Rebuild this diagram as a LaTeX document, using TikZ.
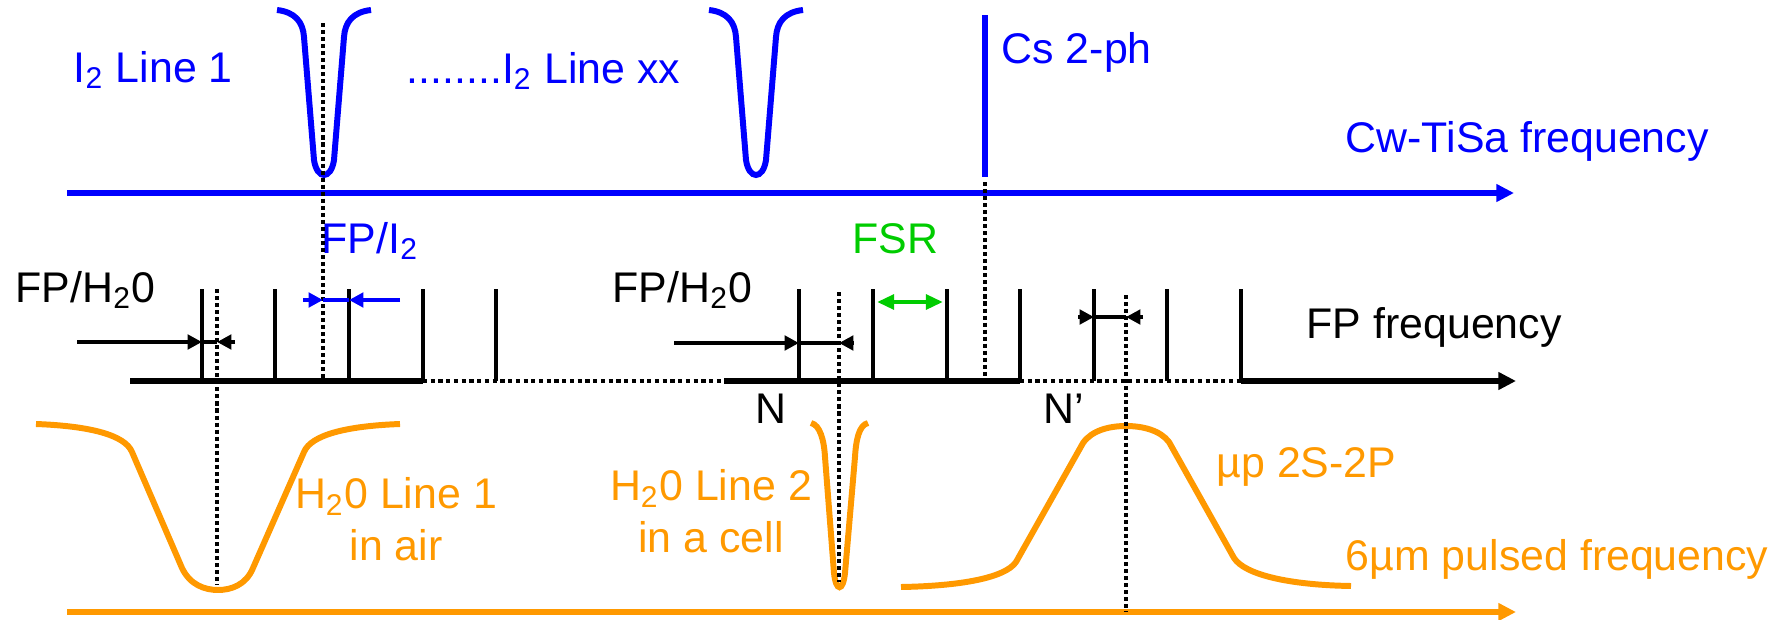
\documentclass[tikz,border=0pt]{standalone}
\usepackage{fontspec}
\setmainfont{Liberation Sans}
\usetikzlibrary{arrows.meta}
\definecolor{tisablue}{RGB}{0,0,255}
\definecolor{pulseorange}{RGB}{255,153,0}
\definecolor{fsrgreen}{RGB}{0,204,0}

\begin{document}
\begin{tikzpicture}[x=0.1mm, y=-0.1mm,
    every node/.style={inner sep=0pt, font=\fontsize{12.2}{14.6}\selectfont},
    axis/.style={line width=1.6pt, -{Triangle[length=5pt, width=4.8pt]}},
    curve/.style={line width=1.7pt},
    tooth/.style={line width=1.4pt},
    guide/.style={line width=1.15pt, dash pattern=on 1.15pt off 0.85pt},
    gapaxis/.style={line width=1.4pt, dash pattern=on 1.2pt off 1pt},
    gap/.style={line width=1.05pt},
    tip/.style={line width=1.05pt, -{Triangle[length=4.1pt, width=4.1pt]}}]

        \useasboundingbox (0,0) rectangle (1779,620);

        % Cw-TiSa row
        \coordinate (cw0) at (67,193);
        \coordinate (cw1) at (1514,193);
        \draw[axis, tisablue] (cw0) -- (cw1);

        \foreach \c in {324,756} {
          \draw[curve, tisablue] ({\c-47},10) .. controls ({\c-29},12) and ({\c-21},22) .. ({\c-20},37)
            -- ({\c-10},160) .. controls ({\c-7},180) and ({\c+7},180) .. ({\c+10},160)
            -- ({\c+20},37) .. controls ({\c+21},22) and ({\c+29},12) .. ({\c+47},10);
        }

        \coordinate (cs0) at (985,15);
        \coordinate (cs1) at (985,177);
        \draw[curve, tisablue] (cs0) -- (cs1);

        \node[anchor=base west, text=tisablue] (i2one) at (73,82) {I\textsubscript{2} Line 1};
        \node[anchor=base west, text=tisablue] (i2xx) at (406,83) {........I\textsubscript{2} Line xx};
        \node[anchor=base west, text=tisablue] (cs) at (1001,63) {Cs 2-ph};
        \node[anchor=base west, text=tisablue] (cwlabel) at (1345,152) {Cw-TiSa frequency};

        % FP row
        \foreach \i/\x in {1/202,2/275,3/349,4/423,5/496,6/799,7/873,8/947,9/1020,10/1094,11/1167,12/1241} {
          \coordinate (t\i) at (\x,289);
          \coordinate (b\i) at (\x,381);
          \draw[tooth] (b\i) -- (t\i);
        }

        \coordinate (fp0) at (130,381);
        \coordinate (fpa) at (724,381);
        \coordinate (fp1) at (1516,381);
        \draw[line width=1.6pt] (fp0) -- (b4);
        \draw[gapaxis] (b4) -- (fpa);
        \draw[line width=1.6pt] (fpa) -- (b9);
        \draw[gapaxis] (b9) -- (b12);
        \draw[axis] (b12) -- (fp1);

        \node[anchor=base west] (fph1) at (15,302) {FP/H\textsubscript{2}0};
        \node[anchor=base west] (fph2) at (612,302) {FP/H\textsubscript{2}0};
        \node[anchor=base west, text=tisablue] (fpi) at (321,253) {FP/I\textsubscript{2}};
        \node[anchor=base west, text=fsrgreen] (fsr) at (852,253) {FSR};
        \node[anchor=base west] (fpfreq) at (1306,338) {FP frequency};
        \node[anchor=base west] (n) at (755,423) {N};
        \node[anchor=base west] (nprime) at (1043,423) {N’};

        % 6 um row
        \coordinate (p0) at (67,612);
        \coordinate (p1) at (1516,612);
        \draw[axis, pulseorange] (p0) -- (p1);

        \draw[curve, pulseorange] (36,424) .. controls (90,426) and (125,435) .. (132,452)
          -- (182,568) .. controls (190,585) and (205,590) .. (218,590)
          .. controls (231,590) and (246,585) .. (253,568)
          -- (304,452) .. controls (311,435) and (346,426) .. (400,424);
        \draw[curve, pulseorange] (811,423) .. controls (820,425) and (824,440) .. (825,457)
          -- (834,573) .. controls (836,592) and (843,592) .. (845,573)
          -- (855,457) .. controls (856,440) and (859,425) .. (868,423);
        \draw[curve, pulseorange] (901,587) .. controls (960,586) and (1005,578) .. (1016,562)
          -- (1083,443) .. controls (1092,430) and (1110,426) .. (1126,426)
          .. controls (1142,426) and (1160,430) .. (1169,442)
          -- (1234,558) .. controls (1245,575) and (1290,585) .. (1351,586);

        \node[anchor=north, align=center, text=pulseorange] (h2oone) at (396,477) {H\textsubscript{2}0 Line 1\\in air};
        \node[anchor=north, align=center, text=pulseorange] (h2otwo) at (711,469) {H\textsubscript{2}0 Line 2\\in a cell};
        \node[anchor=base west, text=pulseorange] (mup) at (1216,477) {µp 2S-2P};
        \node[anchor=base west, text=pulseorange] (sixum) at (1345,570) {6µm pulsed frequency};

        % dotted guides
        \coordinate (g1a) at (323,23);  \coordinate (g1b) at (323,381);
        \coordinate (g2a) at (985,182); \coordinate (g2b) at (985,381);
        \coordinate (g3a) at (217,289); \coordinate (g3b) at (217,585);
        \coordinate (g4a) at (839,292); \coordinate (g4b) at (839,582);
        \coordinate (g5a) at (1126,295); \coordinate (g5b) at (1126,612);
        \foreach \g in {1,...,5} {
          \draw[guide] (g\g a) -- (g\g b);
        }

        % offset markers
        \coordinate (m1) at (77,342);   \coordinate (m1e) at (235,342);
        \draw[tip] (m1) -- (m1 -| t1);
        \draw[gap] (m1 -| t1) -- (m1 -| g3a);
        \draw[tip] (m1e) -- (m1 -| g3a);

        \coordinate (m2) at (674,343);  \coordinate (m2e) at (853,343);
        \draw[tip] (m2) -- (m2 -| t6);
        \draw[gap] (m2 -| t6) -- (m2 -| g4a);
        \draw[tip] (m2e) -- (m2 -| g4a);

        \coordinate (m3) at (303,300);  \coordinate (m3e) at (400,300);
        \draw[tip, tisablue] (m3) -- (m3 -| g1a);
        \draw[gap, tisablue] (m3 -| g1a) -- (m3 -| t3);
        \draw[tip, tisablue] (m3e) -- (m3 -| t3);

        \coordinate (m4) at (1078,317); \coordinate (m4e) at (1143,317);
        \draw[tip] (m4) -- (m4 -| t10);
        \draw[gap] (m4 -| t10) -- (m4 -| g5a);
        \draw[tip] (m4e) -- (m4 -| g5a);

        \coordinate (f) at (0,302);
        \draw[gap, fsrgreen, {Triangle[length=4.8pt, width=4.2pt]}-{Triangle[length=4.8pt, width=4.2pt]}, shorten <=1.2pt, shorten >=1.2pt] (f -| t7) -- (f -| t8);

      \end{tikzpicture}
\end{document}
